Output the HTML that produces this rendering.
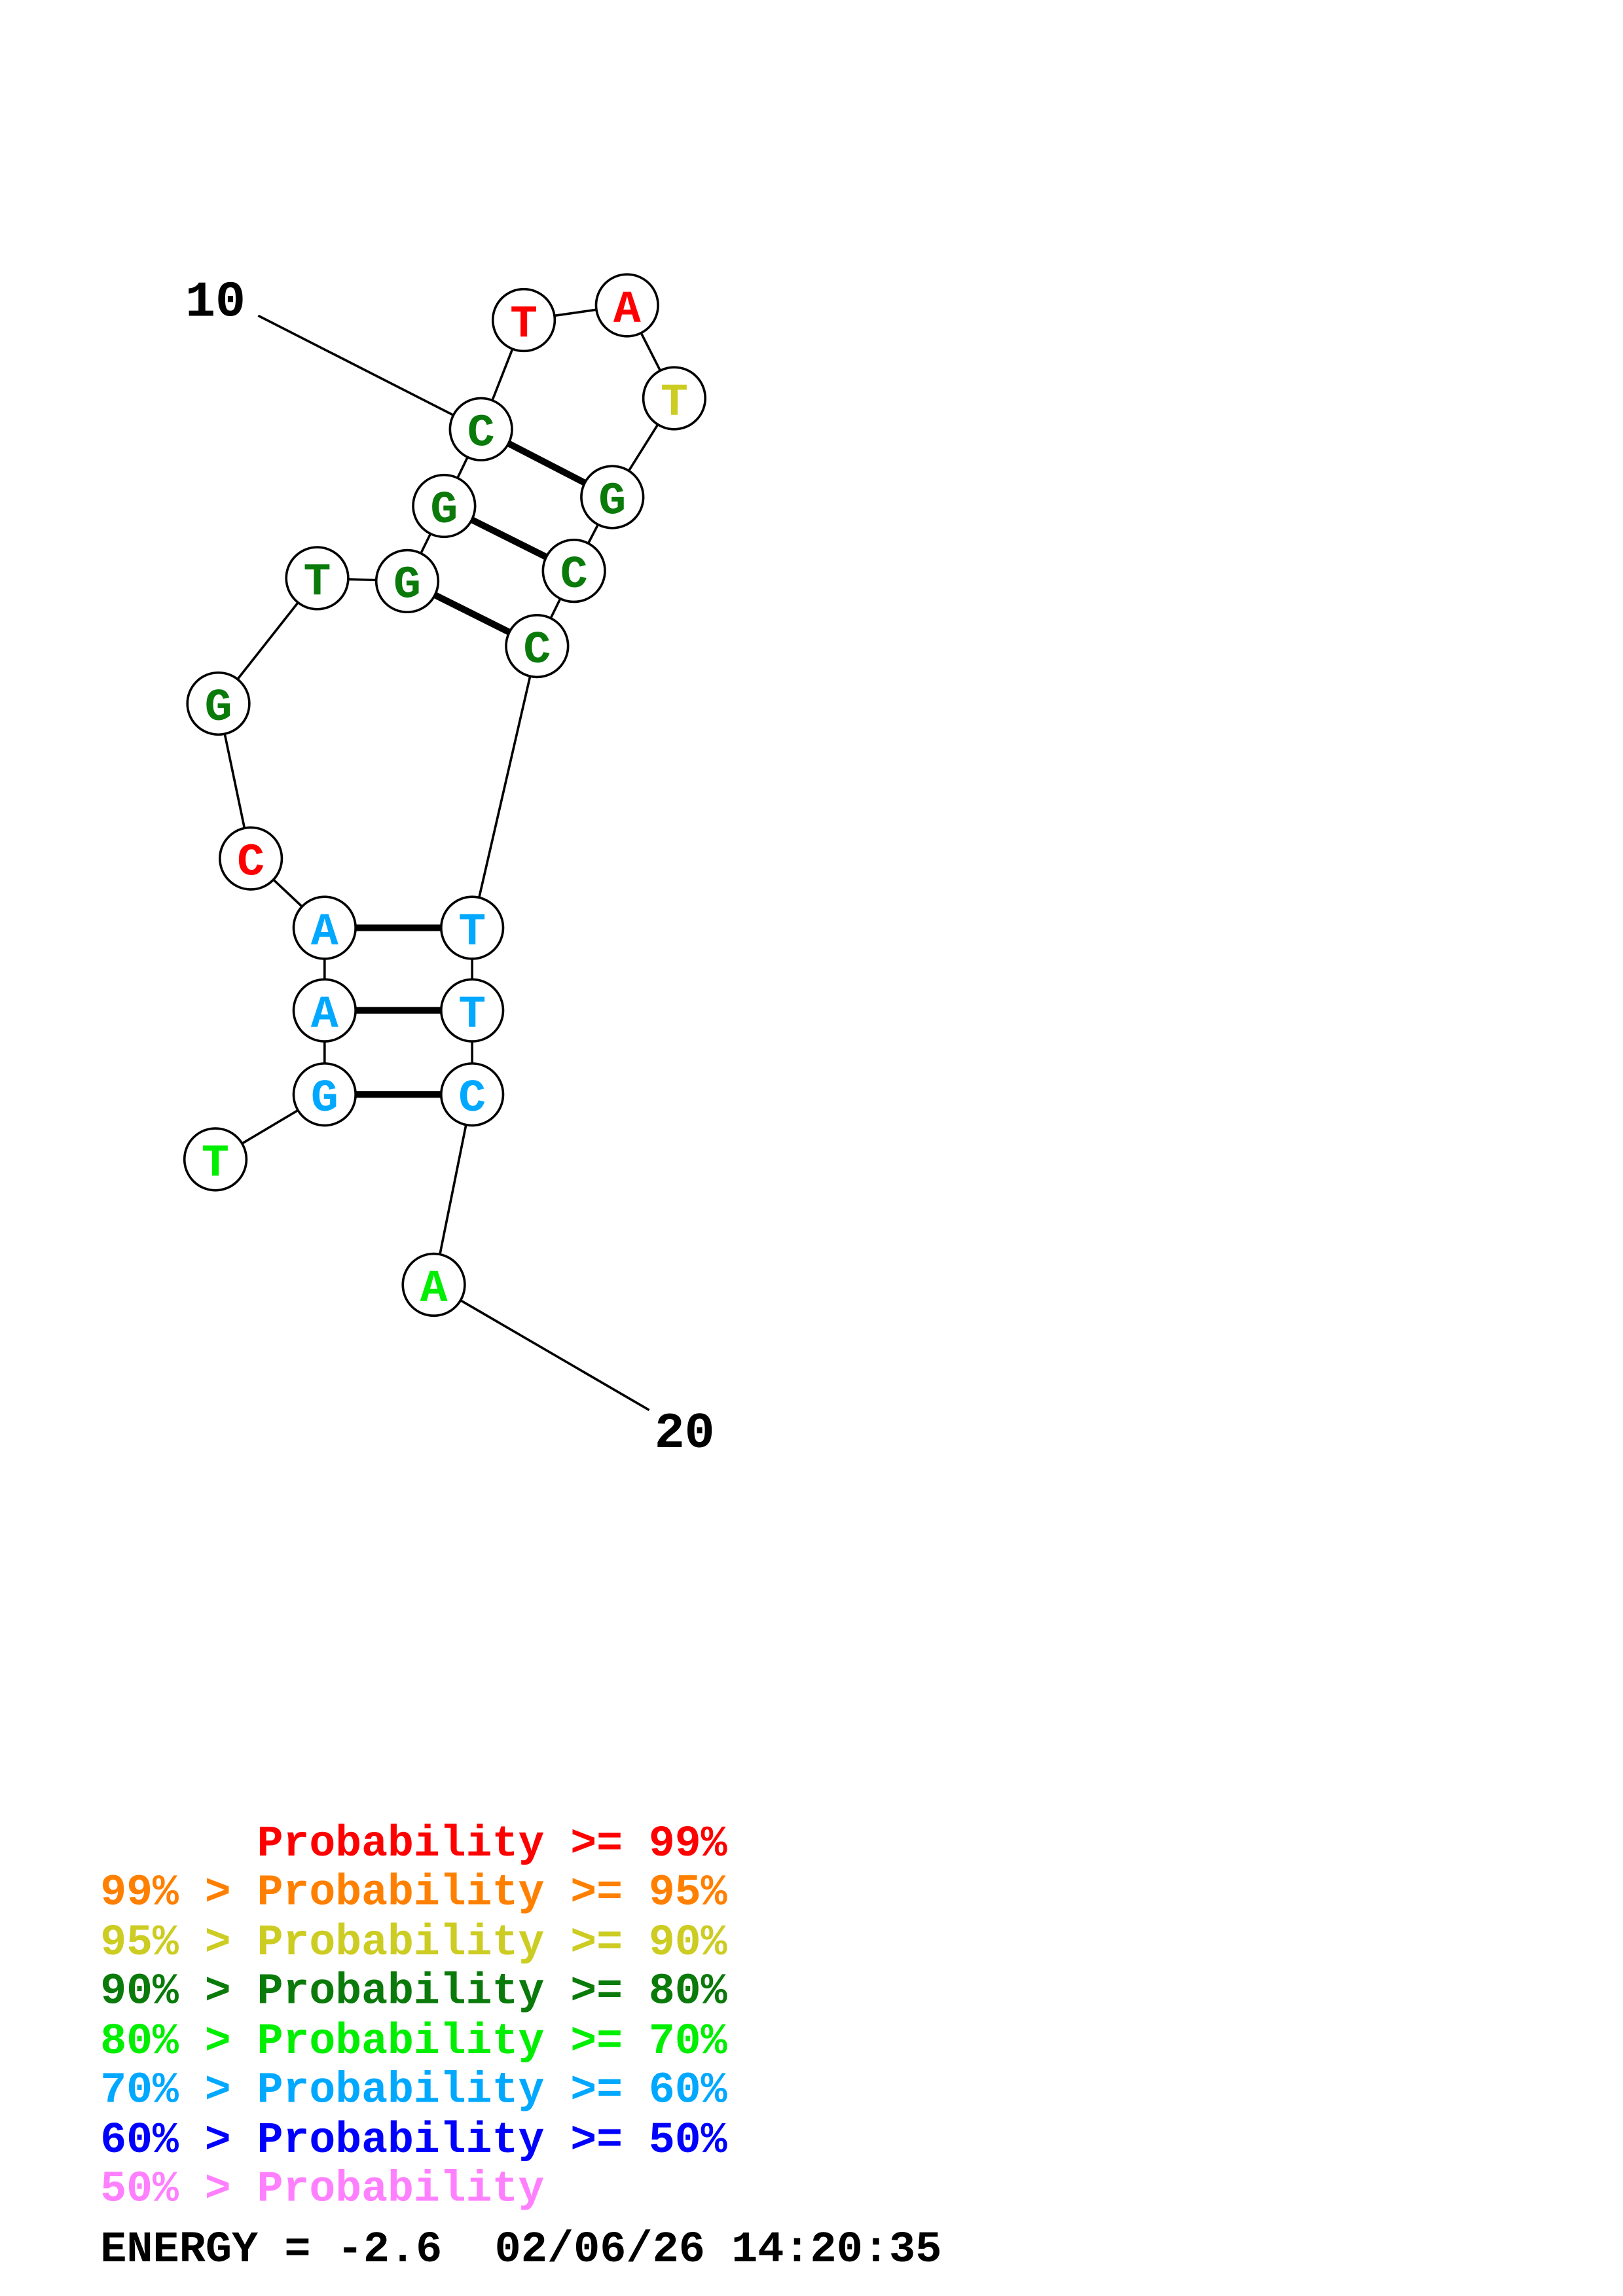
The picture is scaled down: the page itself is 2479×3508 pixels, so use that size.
<!DOCTYPE html>
<html><head><meta charset="utf-8"><style>html,body{margin:0;padding:0;background:#fff}svg{display:block}text{white-space:pre}</style></head>
<body>
<svg width="2479" height="3508" viewBox="0 0 1100 1556.6" xmlns="http://www.w3.org/2000/svg">
<g stroke="#000" stroke-width="1.6" fill="none">
<polyline points="146,786 220,742 220,685 220,629 170,582 148,477 215,392 276,394 301,343 326,291 355,217 425,207 457,270 415,337 389,387 364,438 320,629 320,685 320,742 294,871 440,956"/>
<line x1="175" y1="214" x2="326" y2="291"/>
</g>
<g stroke="#000" stroke-width="4.5">
<line x1="326" y1="291" x2="415" y2="337"/>
<line x1="301" y1="343" x2="389" y2="387"/>
<line x1="276" y1="394" x2="364" y2="438"/>
<line x1="220" y1="629" x2="320" y2="629"/>
<line x1="220" y1="685" x2="320" y2="685"/>
<line x1="220" y1="742" x2="320" y2="742"/>
</g>
<g stroke="#000" stroke-width="1.6" fill="#fff">
<circle cx="355" cy="217" r="21"/><circle cx="425" cy="207" r="21"/><circle cx="457" cy="270" r="21"/>
<circle cx="415" cy="337" r="21"/><circle cx="389" cy="387" r="21"/><circle cx="364" cy="438" r="21"/>
<circle cx="326" cy="291" r="21"/><circle cx="301" cy="343" r="21"/><circle cx="276" cy="394" r="21"/>
<circle cx="215" cy="392" r="21"/><circle cx="148" cy="477" r="21"/><circle cx="170" cy="582" r="21"/>
<circle cx="220" cy="629" r="21"/><circle cx="220" cy="685" r="21"/><circle cx="220" cy="742" r="21"/>
<circle cx="146" cy="786" r="21"/><circle cx="320" cy="629" r="21"/><circle cx="320" cy="685" r="21"/>
<circle cx="320" cy="742" r="21"/><circle cx="294" cy="871" r="21"/>
</g>
<g font-family="Liberation Mono, monospace" font-weight="bold" font-size="31" text-anchor="middle">
<text x="355" y="228" fill="#ff0000">T</text><text x="425" y="218" fill="#ff0000">A</text><text x="457" y="281" fill="#cccc22">T</text>
<text x="415" y="348" fill="#0a7a0a">G</text><text x="389" y="398" fill="#0a7a0a">C</text><text x="364" y="449" fill="#0a7a0a">C</text>
<text x="326" y="302" fill="#0a7a0a">C</text><text x="301" y="354" fill="#0a7a0a">G</text><text x="276" y="405" fill="#0a7a0a">G</text>
<text x="215" y="403" fill="#0a7a0a">T</text><text x="148" y="488" fill="#0a7a0a">G</text><text x="170" y="593" fill="#ff0000">C</text>
<text x="220" y="640" fill="#00a8ff">A</text><text x="220" y="696" fill="#00a8ff">A</text><text x="220" y="753" fill="#00a8ff">G</text>
<text x="146" y="797" fill="#00ee00">T</text><text x="320" y="640" fill="#00a8ff">T</text><text x="320" y="696" fill="#00a8ff">T</text>
<text x="320" y="753" fill="#00a8ff">C</text><text x="294" y="882" fill="#00ee00">A</text>
<text x="146" y="214" fill="#000" font-size="34">10</text><text x="464" y="981" fill="#000" font-size="34">20</text>
</g>
<g font-family="Liberation Mono, monospace" font-weight="bold" font-size="29.5">
<text x="68" y="1258" fill="#ff0000">      Probability &gt;= 99%</text>
<text x="68" y="1291" fill="#ff8000">99% &gt; Probability &gt;= 95%</text>
<text x="68" y="1325" fill="#cccc22">95% &gt; Probability &gt;= 90%</text>
<text x="68" y="1358" fill="#0a7a0a">90% &gt; Probability &gt;= 80%</text>
<text x="68" y="1392" fill="#00ee00">80% &gt; Probability &gt;= 70%</text>
<text x="68" y="1425" fill="#00a8ff">70% &gt; Probability &gt;= 60%</text>
<text x="68" y="1459" fill="#0000ff">60% &gt; Probability &gt;= 50%</text>
<text x="68" y="1492" fill="#ff80ff">50% &gt; Probability</text>
<text x="68" y="1533" fill="#000" font-size="29.7">ENERGY = -2.6  02/06/26 14:20:35</text>
</g>
</svg>
</body></html>
